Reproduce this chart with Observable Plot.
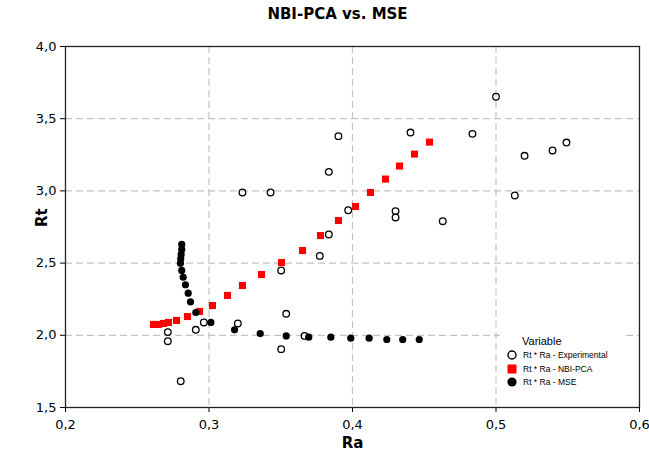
<!DOCTYPE html>
<html>
<head>
<meta charset="utf-8">
<script src="https://cdn.jsdelivr.net/npm/d3@7"></script>
<script src="https://cdn.jsdelivr.net/npm/@observablehq/plot@0.6"></script>
<style>
  html, body { margin: 0; padding: 0; background: #fff; }
  #wrap { position: relative; width: 649px; height: 456px; font-family: "DejaVu Sans", sans-serif; }
  #title { position: absolute; left: 0; width: 675px; top: 5px; text-align: center; font-weight: bold; font-size: 15px; color: #000; }
  #legend { position: absolute; left: 500px; top: 334px; width: 122px; height: 58px; background: #fff; font-family: "Liberation Sans", Arial, sans-serif; color: #000; }
  #legend .head { position: absolute; left: 22px; top: 1px; font-size: 11px; }
  #legend .row { position: absolute; left: 6px; height: 12px; font-size: 8.5px; line-height: 12px; }
  #legend .row svg { position: absolute; left: 0; top: 0; }
  #legend .row span { position: absolute; left: 17px; top: 0; white-space: nowrap; }
</style>
</head>
<body>
<div id="wrap">
  <div id="chart"></div>
  <div id="title">NBI-PCA vs. MSE</div>
  <div id="legend"></div>
</div>
<script>
// ---- Data ----
const expRa = [0.2713, 0.2713, 0.2803, 0.2908, 0.2964, 0.3201, 0.3233, 0.3429, 0.3503, 0.3503, 0.3538, 0.3666, 0.3772, 0.3835, 0.3835, 0.3902, 0.3970, 0.4300, 0.4300, 0.4404, 0.4629, 0.4836, 0.5000, 0.5131, 0.5199, 0.5394, 0.5491];
const expRt = [2.022, 1.959, 1.682, 2.038, 2.089, 2.082, 2.989, 2.989, 1.904, 2.449, 2.149, 1.996, 2.550, 2.698, 3.132, 3.379, 2.866, 2.860, 2.816, 3.404, 2.790, 3.395, 3.652, 2.968, 3.243, 3.280, 3.335];

const nbiRa = [0.2613, 0.2648, 0.2683, 0.2718, 0.2774, 0.2850, 0.2934, 0.3024, 0.3129, 0.3233, 0.3366, 0.3505, 0.3652, 0.3777, 0.3902, 0.4021, 0.4125, 0.4230, 0.4328, 0.4432, 0.4537];
const nbiRt = [2.075, 2.075, 2.082, 2.089, 2.103, 2.130, 2.165, 2.206, 2.276, 2.345, 2.421, 2.504, 2.587, 2.691, 2.795, 2.892, 2.989, 3.082, 3.172, 3.255, 3.338];

const mseRa = [0.2810, 0.2810, 0.2806, 0.2803, 0.2801, 0.2810, 0.2820, 0.2836, 0.2855, 0.2871, 0.2908, 0.3013, 0.3178, 0.3357, 0.3538, 0.3695, 0.3849, 0.3988, 0.4116, 0.4239, 0.4350, 0.4465];
const mseRt = [2.629, 2.595, 2.560, 2.530, 2.499, 2.449, 2.402, 2.350, 2.292, 2.232, 2.158, 2.089, 2.038, 2.012, 1.996, 1.987, 1.987, 1.980, 1.980, 1.971, 1.971, 1.971];

const seriesNames = ["Rt * Ra - Experimental", "Rt * Ra - NBI-PCA", "Rt * Ra - MSE"];
const xTicks = [0.2, 0.3, 0.4, 0.5, 0.6];
const yTicks = [1.5, 2.0, 2.5, 3.0, 3.5, 4.0];
const xGridVals = [0.3, 0.4, 0.5];
const yGridVals = [2.0, 2.5, 3.0, 3.5];
const xLabel = "Ra";
const yLabel = "Rt";
const legendTitle = "Variable";

// ---- Build tables ----
const expData = expRa.map((x, i) => ({x, y: expRt[i]}));
const nbiData = nbiRa.map((x, i) => ({x, y: nbiRt[i]}));
const mseData = mseRa.map((x, i) => ({x, y: mseRt[i]}));

const fmt = d => d3.format(".1f")(d).replace(".", ",");
const gridStyle = {stroke: "#c4c4c4", strokeOpacity: 1, strokeWidth: 1.2, strokeDasharray: "7,4"};

const chart = Plot.plot({
  width: 649,
  height: 456,
  marginLeft: 65,
  marginRight: 10,
  marginTop: 46,
  marginBottom: 49,
  style: {fontFamily: "DejaVu Sans, sans-serif", background: "#fff", overflow: "visible"},
  x: {domain: [0.2, 0.6]},
  y: {domain: [1.5, 4.0]},
  marks: [
    Plot.gridX(xGridVals, gridStyle),
    Plot.gridY(yGridVals, gridStyle),
    Plot.axisX(xTicks, {tickFormat: fmt, tickSize: 5, tickPadding: 7, fontSize: 13, label: null, stroke: "#000", color: "#000"}),
    Plot.axisY(yTicks, {tickFormat: fmt, tickSize: 5, tickPadding: 4, fontSize: 13, label: null, stroke: "#000", color: "#000"}),
    Plot.frame({stroke: "#222", strokeWidth: 1.3}),
    Plot.dot(expData, {x: "x", y: "y", r: 3.3, stroke: "#000", strokeWidth: 1.3, fill: "none"}),
    Plot.dot(nbiData, {x: "x", y: "y", symbol: "square", r: 4, fill: "#ff0000", stroke: "none"}),
    Plot.dot(mseData, {x: "x", y: "y", r: 3.6, fill: "#000", stroke: "none"}),
    Plot.text([xLabel], {frameAnchor: "bottom", dy: 40, text: d => d, fontWeight: "bold", fontSize: 15, fill: "#000"}),
    Plot.text([yLabel], {frameAnchor: "left", dx: -23, rotate: -90, text: d => d, fontWeight: "bold", fontSize: 15, fill: "#000"})
  ]
});
document.getElementById("chart").appendChild(chart);

// ---- Legend ----
const legend = document.getElementById("legend");
const head = document.createElement("div");
head.className = "head";
head.textContent = legendTitle;
legend.appendChild(head);
const symbols = [
  '<svg width="12" height="12"><circle cx="6" cy="6" r="4" fill="none" stroke="#000" stroke-width="1.4"/></svg>',
  '<svg width="12" height="12"><rect x="1.5" y="1.5" width="9" height="9" fill="#ff0000"/></svg>',
  '<svg width="12" height="12"><circle cx="6" cy="6" r="4.6" fill="#000"/></svg>'
];
seriesNames.forEach((name, i) => {
  const row = document.createElement("div");
  row.className = "row";
  row.style.top = (15 + i * 13.5) + "px";
  row.innerHTML = symbols[i] + "<span></span>";
  row.querySelector("span").textContent = name;
  legend.appendChild(row);
});
</script>
</body>
</html>
